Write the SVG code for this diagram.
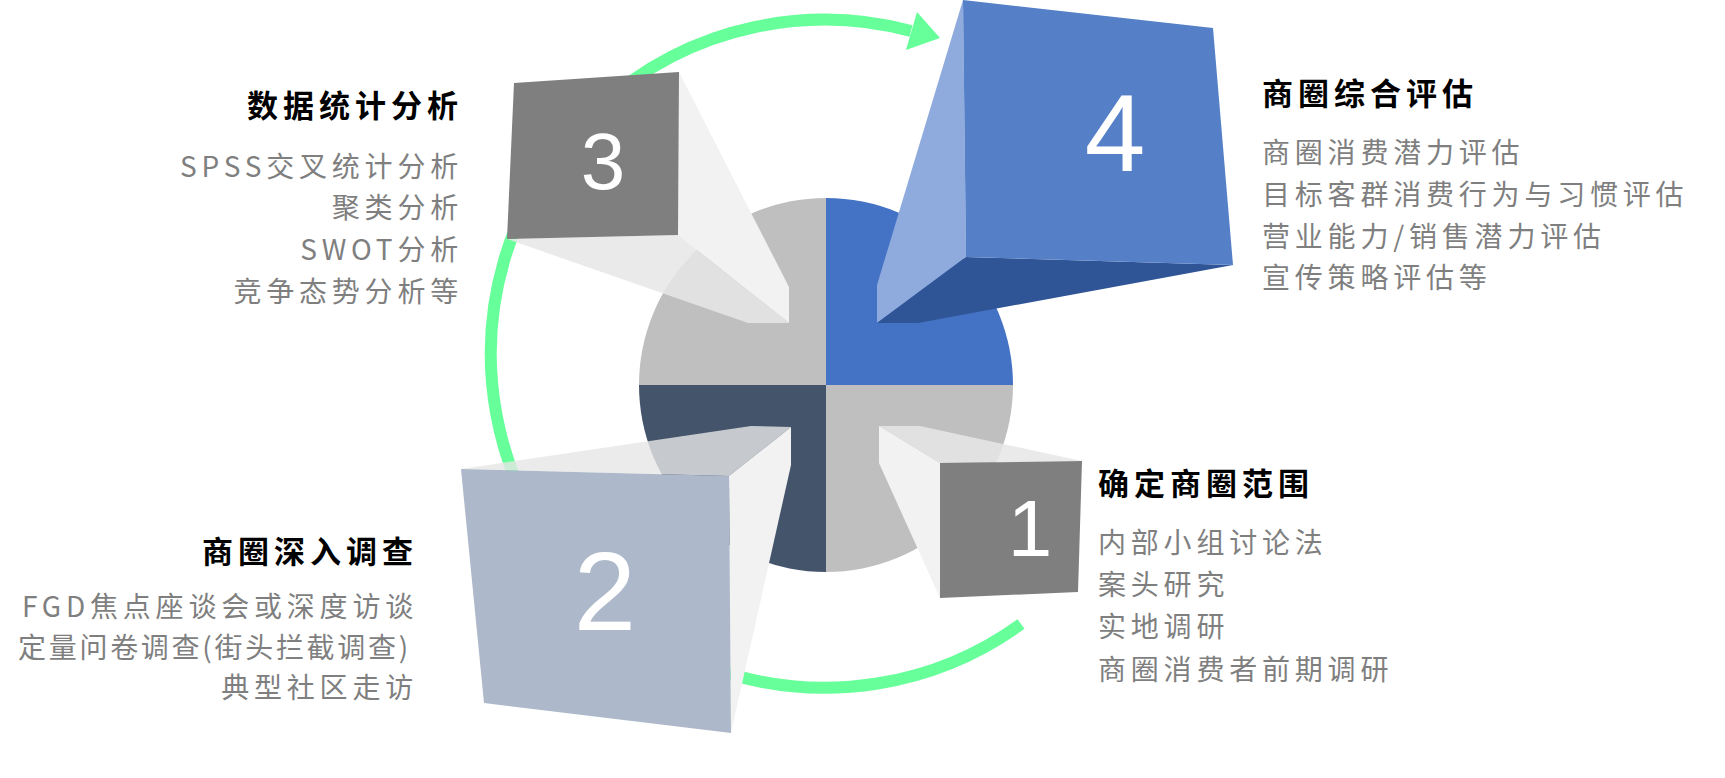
<svg xmlns="http://www.w3.org/2000/svg" width="1725" height="778" viewBox="0 0 1725 778">
<style>
.t{font-family:"Noto Sans CJK SC","Liberation Sans",sans-serif;font-weight:bold;font-size:31px;letter-spacing:5px;fill:#000}
.b{font-family:"Noto Sans CJK SC","Liberation Sans",sans-serif;font-size:28px;letter-spacing:4.8px;fill:#7F7F7F}
.n{font-family:"Liberation Sans",Arial,sans-serif;fill:#fff;text-anchor:middle}
</style>
<rect width="1725" height="778" fill="#fff"/>
<g id="connectors">
<path d="M1021,624 A334,334 0 1 1 911,31" fill="none" stroke="#66FF99" stroke-width="12"/>
<polygon points="940,38 917,12 906,50" fill="#66FF99"/>
</g>
<g id="pie">
<path d="M826,385 L639,385 A187,187 0 0 1 826,198 Z" fill="#BFBFBF"/>
<path d="M826,385 L826,198 A187,187 0 0 1 1013,385 Z" fill="#4472C4"/>
<path d="M826,385 L1013,385 A187,187 0 0 1 826,572 Z" fill="#BFBFBF"/>
<path d="M826,385 L826,572 A187,187 0 0 1 639,385 Z" fill="#44546A"/>
</g>
<g id="node3">
<polygon points="679,72 789,287 789,323 678,235" fill="#F2F2F2"/>
<polygon points="507,239 678,235 789,323 748,323" fill="#E7E6E6" fill-opacity="0.85"/>
<polygon points="514,83 679,72 678,235 507,239" fill="#7F7F7F"/>
<text class="n" x="603" y="189" font-size="80">3</text>
</g>
<g id="node4">
<polygon points="963,0 877,285 877,323 966,257" fill="#8FAADC"/>
<polygon points="966,257 1233,265 918,323 877,323" fill="#2F5597"/>
<polygon points="963,0 1213,28 1233,265 966,257" fill="#5580C8"/>
<text class="n" x="1115" y="171" font-size="109">4</text>
</g>
<g id="node1">
<polygon points="879,426 920,426 1082,461 940,463" fill="#E7E6E6" fill-opacity="0.85"/>
<polygon points="879,426 940,463 940,598 879,463" fill="#F2F2F2"/>
<polygon points="940,463 1082,461 1078,592 940,598" fill="#7F7F7F"/>
<text class="n" x="1030" y="556" font-size="80">1</text>
</g>
<g id="node2">
<polygon points="461,469 751,426 791,427 729,476" fill="#E7E6E6" fill-opacity="0.8"/>
<polygon points="729,476 791,427 791,465 731,733" fill="#F2F2F2"/>
<polygon points="461,469 729,476 731,733 484,703" fill="#ADB9CA"/>
<text class="n" x="605" y="630" font-size="112">2</text>
</g>
<g id="label3" text-anchor="end">
<text class="t" x="463" y="117">数据统计分析</text>
<text class="b" x="463" y="177">SPSS交叉统计分析</text>
<text class="b" x="463" y="218">聚类分析</text>
<text class="b" x="463" y="260">SWOT分析</text>
<text class="b" x="463" y="302">竞争态势分析等</text>
</g>
<g id="label4">
<text class="t" x="1262" y="105">商圈综合评估</text>
<text class="b" x="1262" y="163">商圈消费潜力评估</text>
<text class="b" x="1262" y="205">目标客群消费行为与习惯评估</text>
<text class="b" x="1262" y="247">营业能力/销售潜力评估</text>
<text class="b" x="1262" y="288">宣传策略评估等</text>
</g>
<g id="label2" text-anchor="end">
<text class="t" x="418" y="563">商圈深入调查</text>
<text class="b" x="418" y="617">FGD焦点座谈会或深度访谈</text>
<text class="b" x="18" y="658" text-anchor="start" letter-spacing="0" textLength="395" lengthAdjust="spacing">定量问卷调查(街头拦截调查)</text>
<text class="b" x="418" y="698">典型社区走访</text>
</g>
<g id="label1">
<text class="t" x="1098" y="495">确定商圈范围</text>
<text class="b" x="1098" y="553">内部小组讨论法</text>
<text class="b" x="1098" y="595">案头研究</text>
<text class="b" x="1098" y="637">实地调研</text>
<text class="b" x="1098" y="680">商圈消费者前期调研</text>
</g>
</svg>
